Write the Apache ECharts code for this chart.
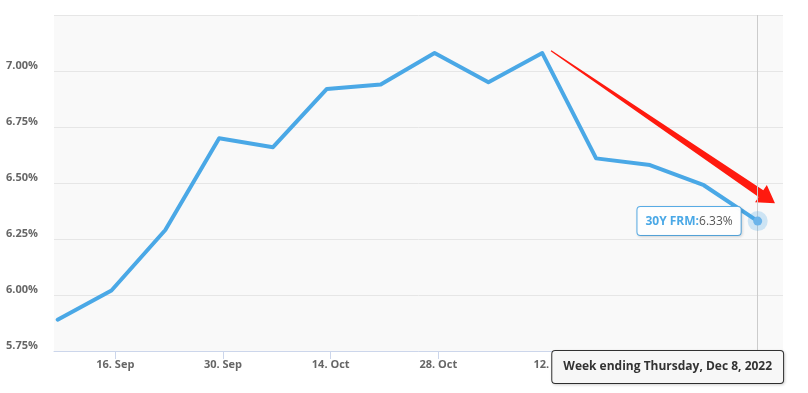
<!DOCTYPE html>
<html>
<head>
<meta charset="utf-8">
<script src="https://cdn.jsdelivr.net/npm/echarts@6/dist/echarts.min.js"></script>
<style>
html,body{margin:0;padding:0;background:#fff;}
#c{width:808px;height:393px;}
</style>
</head>
<body>
<div id="c"></div>
<script>
// Weekly 30-year fixed mortgage rate (week ending Thursday)
const weekDates = ['2022-09-08','2022-09-15','2022-09-22','2022-09-29','2022-10-06','2022-10-13','2022-10-20','2022-10-27','2022-11-03','2022-11-10','2022-11-17','2022-11-24','2022-12-01','2022-12-08'];
const rates = [5.89,6.02,6.29,6.70,6.66,6.92,6.94,7.08,6.95,7.08,6.61,6.58,6.49,6.33];
const tickDates = ['2022-09-16','2022-09-30','2022-10-14','2022-10-28','2022-11-12'];
const tickLabels = ['16. Sep','30. Sep','14. Oct','28. Oct','12. Nov'];
const yTicks = [5.75,6.00,6.25,6.50,6.75,7.00,7.25];
const seriesName = '30Y FRM';
const pointerLabel = 'Week ending Thursday, Dec 8, 2022';
// annotation arrow (tail / tip in data space)
const arrowStart = ['2022-11-11T15:20:00Z', 7.09];
const arrowEnd = ['2022-12-10T18:00:00Z', 6.41];

const ts = d => Date.parse(d + 'T12:00:00Z');
const tickTs = tickDates.map(d => Date.parse(d + 'T00:00:00Z'));
const data = weekDates.map((d, i) => [ts(d), rates[i]]);
const last = data[data.length - 1];
const arrowData = [[Date.parse(arrowStart[0]), arrowStart[1], Date.parse(arrowEnd[0]), arrowEnd[1]]];

const FONT = '"Open Sans", "DejaVu Sans", sans-serif';
const BLUE = '#4aa8e6';

function renderArrow(params, api) {
  const p0 = api.coord([api.value(0), api.value(1)]);
  const p1 = api.coord([api.value(2), api.value(3)]);
  const dx = p1[0] - p0[0], dy = p1[1] - p0[1];
  const len = Math.sqrt(dx * dx + dy * dy);
  const ux = dx / len, uy = dy / len;
  const nx = -uy, ny = ux;
  const headLen = 17, headHalf = 10.5, tailHalf = 0.6, baseHalf = 4.2;
  const bx = p1[0] - ux * headLen, by = p1[1] - uy * headLen;
  const pts = [
    [p0[0] + nx * tailHalf, p0[1] + ny * tailHalf],
    [bx + nx * baseHalf, by + ny * baseHalf],
    [bx + nx * headHalf, by + ny * headHalf],
    [p1[0], p1[1]],
    [bx - nx * headHalf, by - ny * headHalf],
    [bx - nx * baseHalf, by - ny * baseHalf],
    [p0[0] - nx * tailHalf, p0[1] - ny * tailHalf]
  ];
  return {type: 'polygon', shape: {points: pts}, style: {fill: '#ff1a0f'}};
}

const chart = echarts.init(document.getElementById('c'), null, {renderer: 'canvas'});
chart.setOption({
  animation: false,
  backgroundColor: '#ffffff',
  grid: {left: 54, right: 25, top: 15, bottom: 42, show: true, backgroundColor: '#f9f9f9', borderWidth: 0},
  xAxis: {
    type: 'value',
    min: Date.parse('2022-09-08T00:45:00Z'),
    max: Date.parse('2022-12-11T19:00:00Z'),
    splitLine: {show: false},
    axisLine: {show: true, lineStyle: {color: '#ccd6eb', width: 1}},
    axisTick: {show: true, customValues: tickTs, length: 8, lineStyle: {color: '#ccd6eb'}},
    axisLabel: {
      customValues: tickTs, margin: 8,
      fontFamily: FONT, fontWeight: 'bold', fontSize: 11, color: '#666666',
      formatter: v => tickLabels[tickTs.indexOf(v)] || ''
    }
  },
  yAxis: {
    type: 'value', min: yTicks[0], max: yTicks[yTicks.length - 1], interval: 0.25,
    axisLine: {show: false}, axisTick: {show: false},
    splitLine: {show: true, lineStyle: {color: '#e6e6e6', width: 1}},
    axisLabel: {
      showMaxLabel: false, margin: 16, verticalAlign: 'bottom', lineHeight: 10,
      fontFamily: FONT, fontWeight: 'bold', fontSize: 11, color: '#666666',
      formatter: v => v.toFixed(2) + '%'
    }
  },
  series: [{
    name: seriesName,
    type: 'line',
    data: data,
    showSymbol: false,
    symbol: 'none',
    silent: true,
    lineStyle: {color: BLUE, width: 4, cap: 'round', join: 'round'},
    emphasis: {disabled: true},
    z: 3,
    markLine: {
      silent: true,
      symbol: ['none', 'none'],
      animation: false,
      data: [
        {
          xAxis: last[0],
          lineStyle: {color: '#cccccc', width: 1, type: 'solid'},
          label: {
            show: true, position: 'start', distance: 0, offset: [-90, 0],
            formatter: pointerLabel,
            fontFamily: FONT, fontWeight: 'bold', fontSize: 12, lineHeight: 16, color: '#333333',
            backgroundColor: '#f7f7f7', borderColor: '#333333', borderWidth: 1, borderRadius: 3,
            padding: [8, 11, 8, 11],
            shadowColor: 'rgba(0,0,0,0.15)', shadowBlur: 3, shadowOffsetX: 1, shadowOffsetY: 1
          }
        }
      ]
    },
    markPoint: {
      silent: true,
      animation: false,
      data: [
        {
          coord: last, symbol: 'circle', symbolSize: 20,
          itemStyle: {color: 'rgba(74,168,230,0.25)'},
          label: {
            show: true, position: 'left', distance: 7,
            formatter: '{a|' + seriesName + ':}{b|' + last[1].toFixed(2) + '%}',
            backgroundColor: 'rgba(255,255,255,0.97)', borderColor: '#5aaee8', borderWidth: 1, borderRadius: 3,
            padding: [8, 8, 8, 8],
            shadowColor: 'rgba(0,0,0,0.12)', shadowBlur: 3, shadowOffsetX: 1, shadowOffsetY: 1,
            rich: {
              a: {fontFamily: FONT, fontWeight: 'bold', fontSize: 12, color: BLUE},
              b: {fontFamily: FONT, fontSize: 12, color: '#555555'}
            }
          }
        },
        {
          coord: last, symbol: 'circle', symbolSize: 9,
          itemStyle: {color: '#6cb4ea'}, label: {show: false}
        }
      ]
    }
  }, {
    name: 'arrow',
    type: 'custom',
    data: arrowData,
    encode: {x: [0, 2], y: [1, 3]},
    renderItem: renderArrow,
    clip: false,
    silent: true,
    z: 4
  }]
});
</script>
</body>
</html>
